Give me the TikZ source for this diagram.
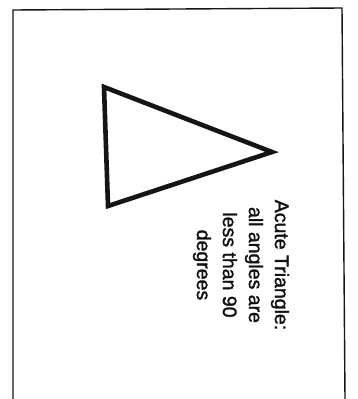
\documentclass[tikz,border=0pt]{standalone}
\usepackage{fontspec}
\setmainfont{Liberation Sans}
\newfontfamily\scanfont[FakeBold=1.6]{Liberation Sans}
\usetikzlibrary{calc, positioning}
\definecolor{color_text}{HTML}{111111}
\definecolor{color_line}{HTML}{151515}
\tikzset{
  page_frame/.style={draw=color_line, line width=1.4pt, line join=miter},
  shape_edge/.style={draw=color_line, line width=4.6pt, line join=miter},
  figure_label/.style={font=\scanfont\fontsize{19.5}{26}\selectfont, text=color_text, align=center, inner sep=0pt, rotate=-90},
}

\begin{document}
\begin{tikzpicture}[x=1pt, y=-1pt]
    \useasboundingbox (0,0) rectangle (358,399);
    \fill[white] (0,0) rectangle (358,399);

    % card outline, open at the bottom
    \draw[page_frame] (13,399) -- (13,10) -- (342,8) -- (345,399);

    % triangle corners
    \coordinate (top)   at (104,87);
    \coordinate (base)  at (108,206);
    \coordinate (apex)  at (272,152);
    \draw[shape_edge] (top) -- (apex) -- (base) -- cycle;

    \node[figure_label] (caption) at (241,265) {Acute Triangle:\\all angles are\\less than 90\\degrees};
  \end{tikzpicture}
\end{document}
